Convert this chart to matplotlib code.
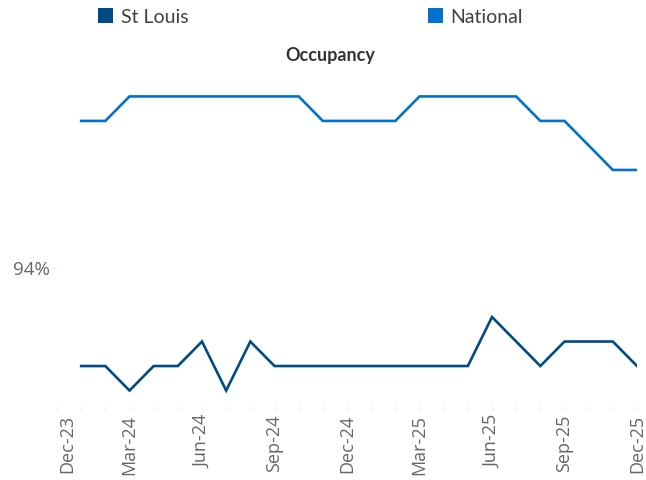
import matplotlib
matplotlib.use("Agg")
import matplotlib.pyplot as plt
import matplotlib.transforms as mtransforms
from matplotlib.patches import Patch

# ---- data ----
months = ["Dec-23",
          "Jan-24", "Feb-24", "Mar-24", "Apr-24", "May-24", "Jun-24",
          "Jul-24", "Aug-24", "Sep-24", "Oct-24", "Nov-24", "Dec-24",
          "Jan-25", "Feb-25", "Mar-25", "Apr-25", "May-25", "Jun-25",
          "Jul-25", "Aug-25", "Sep-25", "Oct-25", "Nov-25", "Dec-25"]
st_louis = [93.6, 93.6, 93.5, 93.6, 93.6, 93.7, 93.5, 93.7, 93.6, 93.6,
            93.6, 93.6, 93.6, 93.6, 93.6, 93.6, 93.6, 93.8, 93.7, 93.6,
            93.7, 93.7, 93.7, 93.6]
national = [94.6, 94.6, 94.7, 94.7, 94.7, 94.7, 94.7, 94.7, 94.7, 94.7,
            94.6, 94.6, 94.6, 94.6, 94.7, 94.7, 94.7, 94.7, 94.7, 94.6,
            94.6, 94.5, 94.4, 94.4]
series_names = ["St Louis", "National"]
colors = ["#004B87", "#0072CE"]
y_ticks = [94]
y_tick_labels = ["94%"]
title = "Occupancy"

W, H = 646, 480
fig = plt.figure(figsize=(W / 100, H / 100), dpi=100)
left_px, right_px, bottom_px, top_px = 57, 637, 405, 80
ax = fig.add_axes([left_px / W, 1 - bottom_px / H,
                   (right_px - left_px) / W, (bottom_px - top_px) / H])

x_data = list(range(1, len(months)))
ax.plot(x_data, st_louis, color=colors[0], lw=1.9, solid_joinstyle="miter")
ax.plot(x_data, national, color=colors[1], lw=1.9, solid_joinstyle="miter")

ax.set_xlim(0, len(months) - 1)
ax.set_ylim(93.441, 94.767)

for s in ax.spines.values():
    s.set_visible(False)

ax.set_xticks(range(len(months)))
ax.set_xticklabels([m if i % 3 == 0 else "" for i, m in enumerate(months)],
                   rotation=90, fontfamily="Open Sans", fontsize=13,
                   color="#666666")
ax.tick_params(axis="x", length=4, width=0.8, color="#eeeeee", pad=3)
ax.set_yticks(y_ticks)
ax.set_yticklabels(y_tick_labels, fontfamily="Open Sans", fontsize=13.5,
                   color="#666666")
ax.tick_params(axis="y", length=4, width=0.8, color="#eeeeee", pad=1)

# shift first x label to the right like reference
lbl0 = ax.get_xticklabels()[0]
lbl0.set_transform(lbl0.get_transform() +
                   mtransforms.ScaledTranslation(10 / 100, 0, fig.dpi_scale_trans))

fig.text(330 / W, 1 - 55 / H, title, ha="center", va="center",
         fontfamily="Lato", fontweight="bold", fontsize=13, color="#333333")

handles = [Patch(facecolor=c, edgecolor="none") for c in colors]
fig.legend(handles, series_names, loc="center left",
           bbox_to_anchor=(94 / W, 1 - 17 / H), ncol=2, frameon=False,
           prop={"family": "Lato", "size": 14}, labelcolor="#404040",
           handlelength=0.78, handleheight=0.78, handletextpad=0.4,
           columnspacing=12.3, borderaxespad=0, borderpad=0.2)

fig.savefig("out.png", dpi=100)
